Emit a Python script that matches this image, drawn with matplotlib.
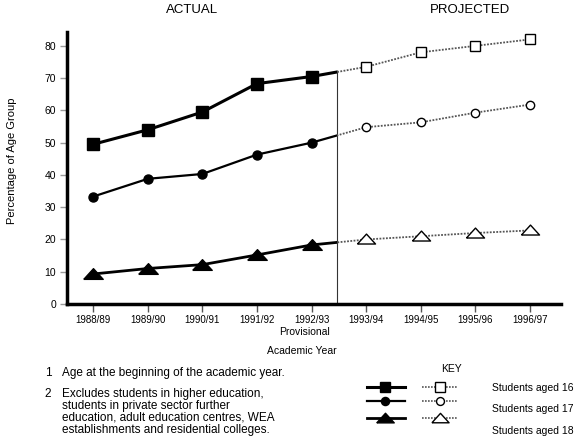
import matplotlib
matplotlib.use("Agg")

import matplotlib.pyplot as plt
from matplotlib.lines import Line2D
from matplotlib.patches import Rectangle

plt.rcParams['font.family'] = ['Liberation Sans', 'DejaVu Sans']

years = ['1988/89', '1989/90', '1990/91', '1991/92', '1992/93',
         '1993/94', '1994/95', '1995/96', '1996/97']
aged_16 = [49.5, 54.0, 59.5, 68.3, 70.5, 73.5, 78.0, 80.0, 82.0]
aged_17 = [33.3, 38.8, 40.3, 46.3, 50.0, 54.8, 56.3, 59.3, 61.8]
aged_18 = [9.3, 11.0, 12.2, 15.2, 18.3, 20.0, 21.0, 22.0, 22.8]
n_actual = 5          # first five years are actual, rest projected
divider = 4.47        # where the ACTUAL / PROJECTED split sits

# wide, flat triangle like the original print
flat_tri = [(-1, -0.5), (1, -0.5), (0, 0.6), (-1, -0.5)]

W, H = 575, 441
fig = plt.figure(figsize=(W / 100, H / 100), dpi=100)
ax = fig.add_axes([67 / W, 1 - 304 / H, (561 - 67) / W, (304 - 32) / H])
xlim = (-0.48, 8.57)
ax.set_xlim(xlim)
ax.set_ylim(0, 84.3)

# values, marker, size, line width, open-marker size
series = [
    (aged_16, 's', 8, 2.2, 7.5),
    (aged_17, 'o', 6.5, 1.6, 6),
    (aged_18, flat_tri, 14, 2.0, 13),
]
x = list(range(len(years)))

for vals, mk, ms, lw, ms_open in series:
    # solid part, running on to the divider
    solid, = ax.plot(x[:n_actual + 1], vals[:n_actual + 1], '-', color='black',
                     lw=lw, zorder=3)
    solid.set_clip_path(Rectangle((xlim[0], -10), divider - xlim[0], 200,
                                  transform=ax.transData))
    dotted, = ax.plot(x[n_actual - 1:], vals[n_actual - 1:], color='#555555',
                      lw=1.3, linestyle=(0, (1, 0.8)), zorder=2)
    dotted.set_clip_path(Rectangle((divider, -10), 20, 200,
                                   transform=ax.transData))
    ax.plot(x[:n_actual], vals[:n_actual], linestyle='none', marker=mk, ms=ms,
            color='black', zorder=4)
    ax.plot(x[n_actual:], vals[n_actual:], linestyle='none', marker=mk,
            ms=ms_open, mfc='white', mec='black', mew=1.0, zorder=4)

ax.vlines(divider, 0, 72.5, color='#333333', lw=0.8, zorder=1)

for side in ['top', 'right']:
    ax.spines[side].set_visible(False)
for side in ['left', 'bottom']:
    ax.spines[side].set_linewidth(2.5)

ax.set_yticks(range(0, 81, 10))
ax.set_xticks(x)
ax.set_xticklabels(years)
ax.tick_params(axis='y', length=5, width=1, color='#999999', pad=3,
               labelsize=7.5)
ax.tick_params(axis='x', length=6, width=1, color='#555555', pad=2,
               labelsize=7)

def ftext(px, py, s, **kw):
    fig.text(px / W, 1 - py / H, s, **kw)

ftext(192, 10, 'ACTUAL', ha='center', va='center', fontsize=9.5)
ftext(470, 10, 'PROJECTED', ha='center', va='center', fontsize=9.5)
ftext(12, 161, 'Percentage of Age Group', ha='center', va='center',
      rotation=90, fontsize=8)
ftext(304, 332, 'Provisional', ha='center', va='center', fontsize=7.5)
ftext(302, 351, 'Academic Year', ha='center', va='center', fontsize=7.5)

ftext(48, 373, '1', ha='center', va='center', fontsize=8.5)
ftext(62, 373, 'Age at the beginning of the academic year.', ha='left',
      va='center', fontsize=8.5)
ftext(48, 394, '2', ha='center', va='center', fontsize=8.5)
ftext(62, 388, 'Excludes students in higher education,\n'
      'students in private sector further\n'
      'education, adult education centres, WEA\n'
      'establishments and residential colleges.', ha='left', va='top',
      fontsize=8.5, linespacing=1.0)

# key
ftext(452, 369, 'KEY', ha='center', va='center', fontsize=7.5)
key_rows = [(387, 388, 'Students aged 16'), (401, 409, 'Students aged 17'),
            (418, 431, 'Students aged 18')]
for (vals, mk, ms, lw, ms_open), (sy, ty, label) in zip(series, key_rows):
    yy = 1 - sy / H
    fig.add_artist(Line2D([367 / W, 405 / W], [yy, yy], color='black', lw=lw,
                          transform=fig.transFigure))
    fig.add_artist(Line2D([385 / W], [yy], marker=mk, ms=ms * 0.9,
                          color='black', linestyle='none',
                          transform=fig.transFigure))
    fig.add_artist(Line2D([422 / W, 458 / W], [yy, yy], color='#555555',
                          lw=1.2, linestyle=(0, (1, 0.8)),
                          transform=fig.transFigure))
    fig.add_artist(Line2D([440 / W], [yy], marker=mk, ms=ms_open * 0.95,
                          mfc='white', mec='black', mew=1.0, linestyle='none',
                          transform=fig.transFigure))
    ftext(492, ty, label, ha='left', va='center', fontsize=7.5)

fig.savefig('out.png', dpi=100)
